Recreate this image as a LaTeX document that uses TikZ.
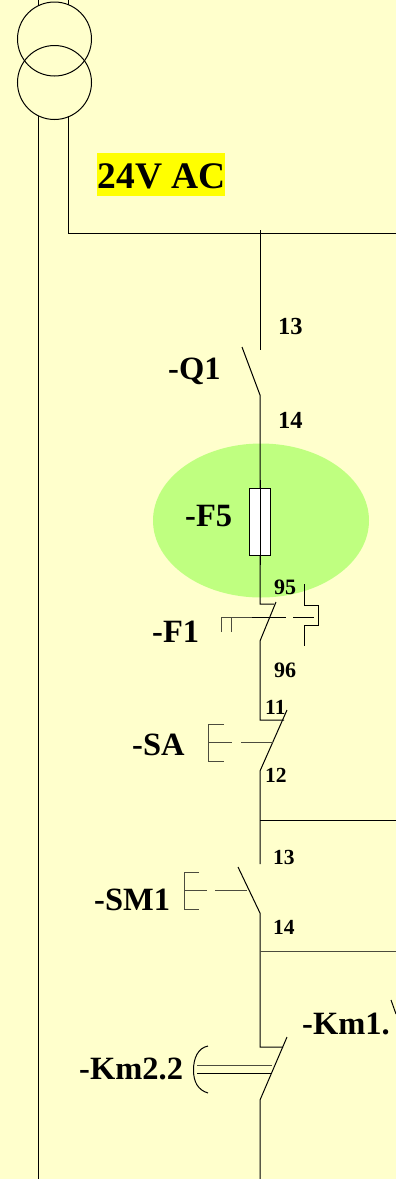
\documentclass[tikz,border=0pt]{standalone}
\usepackage{fontspec}
\setmainfont{Liberation Serif}
\definecolor{bgc}{HTML}{FFFFCC}
\definecolor{grn}{HTML}{BFFF80}
\definecolor{yel}{HTML}{FFFF00}
\newcommand{\fs}[1]{\fontsize{#1}{#1}\selectfont\bfseries}
\tikzset{
  wire/.style={draw=black,line width=1pt},
  thin wire/.style={draw=black!70!bgc,line width=0.9pt},
  lab/.style={inner sep=0pt,anchor=base west,text=black},
  biglab/.style={lab,font=\fs{32.5}},
  numA/.style={lab,font=\fs{24.5}},
  numB/.style={lab,font=\fs{21.5}},
}
\begin{document}
\begin{tikzpicture}[x=1pt,y=-1pt]
\useasboundingbox (0,0) rectangle (396,1179);
\fill[bgc] (0,0) rectangle (396,1179);
% transformer
\draw[wire] (38,0) -- (38,5);
\draw[wire] (68,0) -- (68,5);
\draw[wire] (38,116) -- (38,1179);
\draw[wire] (68,116) -- (68,233) -- (396,233);
\draw[wire] (54.5,39) circle (37);
\draw[wire] (54.5,82.5) circle (37);
\node[lab,fill=yel,anchor=north west,minimum width=128pt,minimum height=43pt] (ac) at (97,153) {};
\node[lab,font=\fs{37.5}] (actxt) at (97.5,188) {24V AC};
% green
\fill[grn] (261,520.5) ellipse (108 and 77);
% main line Q1
\draw[wire] (260,230) -- (260,350);
\draw[wire] (242,347) -- (260,395) -- (260,604) -- (274,604);
\node[numA] (n13) at (278,334) {13};
\node[biglab] (q1) at (168,379) {-Q1};
\node[numA] (n14) at (278,428) {14};
% fuse
\draw[wire,fill=white] (249,488) rectangle (270,555);
\draw[wire] (260,480) -- (260,565);
\node[biglab] (f5) at (185,526) {-F5};
% F1
\draw[wire] (276,602) -- (260,641) -- (260,720) -- (284,720);
\draw[wire] (287,710) -- (260,771) -- (260,864);
\draw[thin wire] (222,617) -- (252,617);
\draw[wire] (252,617) -- (286,617);
\draw[wire] (293,617) -- (314,617);
\draw[thin wire] (221.5,632) -- (221.5,617);
\draw[thin wire] (231,632) -- (231,617);
\draw[wire] (304,584) -- (304,605) -- (318,605) -- (318,625) -- (304,625) -- (304,646);
\node[numB,font=\fs{22}] (n95) at (274,594) {95};
\node[numB,font=\fs{22}] (n96) at (274,677) {96};
\node[biglab] (f1) at (152,642) {-F1};
% SA
\node[numB] (n11) at (265,714) {11};
\node[numB] (n12) at (265,782) {12};
\node[biglab] (sa) at (132,755) {-SA};
\draw[thin wire] (224,724) -- (208.5,724) -- (208.5,761) -- (224,761);
\draw[thin wire] (208.5,742) -- (232,742);
\draw[thin wire] (241,742) -- (273,742);
% SM1
\draw[wire] (260,820.5) -- (396,820.5);
\draw[wire] (238,867) -- (260,913) -- (260,1047) -- (283,1047);
\draw[thin wire] (260,951) -- (396,951);
\node[numB] (n13b) at (273,864) {13};
\node[numB] (n14b) at (273,934) {14};
\node[biglab] (sm) at (94,910) {-SM1};
\draw[thin wire] (199,872) -- (184,872) -- (184,909) -- (199,909);
\draw[thin wire] (184,890) -- (207,890);
\draw[thin wire] (215,890) -- (247,890);
% Km
\draw[wire] (287,1037) -- (260,1100) -- (260,1179);
\draw[thin wire] (197,1065.5) -- (272,1065.5);
\draw[wire] (197,1073) -- (271,1073);
\draw[wire] (208,1046) .. controls (198,1048) and (193.5,1058) .. (193.5,1070) .. controls (193.5,1082) and (198,1090) .. (208,1093);
\node[biglab] (km2) at (79,1079) {-Km2.2};
\node[biglab] (km1) at (302,1034) {-Km1.};
\draw[wire] (391,1000) -- (396,1014);
\end{tikzpicture}
\end{document}
